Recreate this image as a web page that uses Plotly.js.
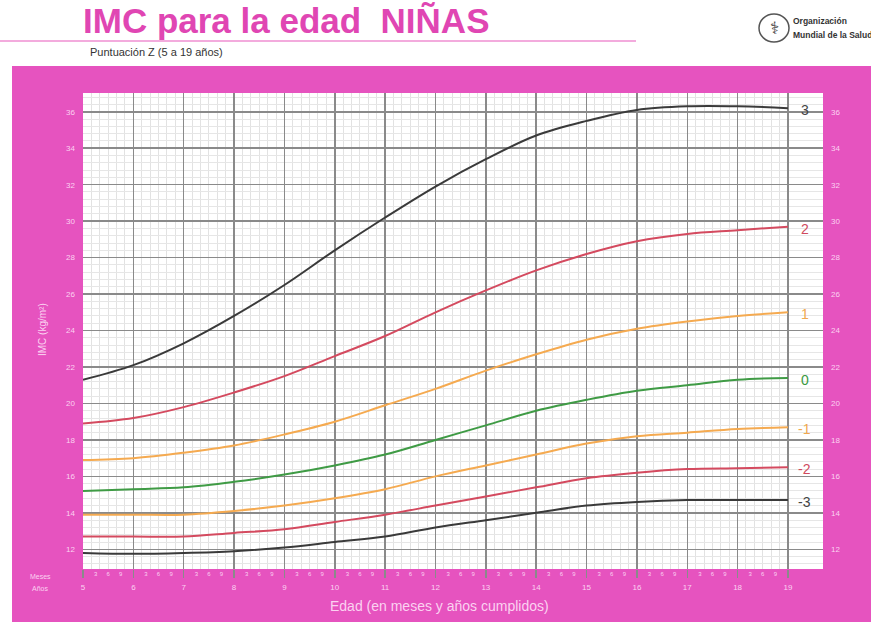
<!DOCTYPE html>
<html>
<head>
<meta charset="utf-8">
<script src="https://cdn.plot.ly/plotly-3.0.1.min.js"></script>
<style>html,body{margin:0;padding:0;background:#fff;}#chart{width:871px;height:622px;}</style>
</head>
<body>
<div id="chart"></div>
<script>
// ---- data (BMI-for-age, girls, 5-19 years, z-score curves) ----
const ages = [5, 6, 7, 8, 9, 10, 11, 12, 13, 14, 15, 16, 17, 18, 19];
const sd3  = [21.3, 22.1, 23.3, 24.8, 26.5, 28.4, 30.2, 31.9, 33.4, 34.7, 35.5, 36.1, 36.3, 36.3, 36.2];
const sd2  = [18.9, 19.2, 19.8, 20.6, 21.5, 22.6, 23.7, 25.0, 26.2, 27.3, 28.2, 28.9, 29.3, 29.5, 29.7];
const sd1  = [16.9, 17.0, 17.3, 17.7, 18.3, 19.0, 19.9, 20.8, 21.8, 22.7, 23.5, 24.1, 24.5, 24.8, 25.0];
const sd0  = [15.2, 15.3, 15.4, 15.7, 16.1, 16.6, 17.2, 18.0, 18.8, 19.6, 20.2, 20.7, 21.0, 21.3, 21.4];
const sdm1 = [13.9, 13.9, 13.9, 14.1, 14.4, 14.8, 15.3, 16.0, 16.6, 17.2, 17.8, 18.2, 18.4, 18.6, 18.7];
const sdm2 = [12.7, 12.7, 12.7, 12.9, 13.1, 13.5, 13.9, 14.4, 14.9, 15.4, 15.9, 16.2, 16.4, 16.45, 16.5];
const sdm3 = [11.8, 11.75, 11.8, 11.9, 12.1, 12.4, 12.7, 13.2, 13.6, 14.0, 14.4, 14.6, 14.7, 14.7, 14.7];
const zLabels = ['3', '2', '1', '0', '-1', '-2', '-3'];
const monthLabels = ['3', '6', '9'];

// ---- styling ----
const W = 871, H = 622, ML = 83, MR = 48, MT = 93, MB = 53;
const PW = W - ML - MR, PH = H - MT - MB;
const px = v => (v - ML) / PW;
const py = v => (H - MB - v) / PH;
const PINK = '#e653bf';
const LIGHT = '#fbd2f1';
const FONT = 'Liberation Sans, Arial, sans-serif';
const colBlack = '#3a3a3a', colRed = '#d44a5f', colOrange = '#f5aa50', colGreen = '#3f9b45';

const series = [sd3, sd2, sd1, sd0, sdm1, sdm2, sdm3];
const lineCols = [colBlack, colRed, colOrange, colGreen, colOrange, colRed, colBlack];
const labelCols = ['#444444', '#d04a5e', '#f0a850', '#3a9a40', '#f0a850', '#d04a5e', '#444444'];

const traces = series.map((s, i) => ({
  x: ages, y: s, type: 'scatter', mode: 'lines',
  line: {color: lineCols[i], width: 2, shape: 'spline', smoothing: 1},
  hoverinfo: 'skip', showlegend: false
}));
// helper trace that makes the secondary axes exist (draws nothing)
traces.push({x: ages, y: sd0, xaxis: 'x2', yaxis: 'y2', type: 'scatter', mode: 'none', hoverinfo: 'skip', showlegend: false});

// ticks for month rows and minor grid
const monthTicks = [], monthText = [], minorX = [];
for (let k = 0; k < ages.length - 1; k++) {
  const a = ages[k];
  monthLabels.forEach((m, j) => { monthTicks.push(a + (j + 1) / 4); monthText.push(m); });
  for (let m = 1; m < 6; m++) minorX.push(a + m / 6);
}

const xr = [5, 19.696], yr = [10.92, 37.03];

const annotations = series.map((s, i) => ({
  x: 19.33, y: s[s.length - 1], xref: 'x', yref: 'y', text: zLabels[i], showarrow: false,
  yshift: -2, font: {family: FONT, size: 14, color: labelCols[i]}
}));
annotations.push(
  {x: px(88), y: py(52), xref: 'paper', yref: 'paper', xanchor: 'left', yanchor: 'middle', showarrow: false,
   text: 'Puntuación Z (5 a 19 años)', font: {family: FONT, size: 11, color: '#333'}},
  {x: px(791), y: py(21), xref: 'paper', yref: 'paper', xanchor: 'left', yanchor: 'middle', showarrow: false,
   text: '<b>Organización</b>', font: {family: FONT, size: 8.5, color: '#333'}},
  {x: px(791), y: py(35), xref: 'paper', yref: 'paper', xanchor: 'left', yanchor: 'middle', showarrow: false,
   text: '<b>Mundial de la Salud</b>', font: {family: FONT, size: 8.5, color: '#333'}},
  {x: px(774), y: py(28), xref: 'paper', yref: 'paper', xanchor: 'center', yanchor: 'middle', showarrow: false,
   text: '⚕', font: {family: 'DejaVu Sans', size: 17, color: '#444'}},
  {x: px(40), y: py(576), xref: 'paper', yref: 'paper', xanchor: 'center', yanchor: 'middle', showarrow: false,
   text: 'Meses', font: {family: FONT, size: 7, color: LIGHT}},
  {x: px(40), y: py(588), xref: 'paper', yref: 'paper', xanchor: 'center', yanchor: 'middle', showarrow: false,
   text: 'Años', font: {family: FONT, size: 7, color: LIGHT}},
  {x: px(439), y: py(606), xref: 'paper', yref: 'paper', xanchor: 'center', yanchor: 'middle', showarrow: false,
   text: 'Edad (en meses y años cumplidos)', font: {family: FONT, size: 14, color: LIGHT}},
  {x: px(42), y: py(330), xref: 'paper', yref: 'paper', xanchor: 'center', yanchor: 'middle', showarrow: false,
   textangle: -90, text: 'IMC (kg/m²)', font: {family: FONT, size: 10, color: LIGHT}}
);

const shapes = [
  {type: 'rect', xref: 'paper', yref: 'paper', x0: px(12), x1: px(W + 2), y0: py(H + 2), y1: py(66),
   fillcolor: PINK, line: {width: 0}, layer: 'below'},
  {type: 'rect', xref: 'paper', yref: 'paper', x0: 0, x1: 1, y0: 0, y1: 1,
   fillcolor: '#ffffff', line: {width: 0}, layer: 'below'},
  {type: 'line', xref: 'paper', yref: 'paper', x0: px(0), x1: px(636), y0: py(41), y1: py(41),
   line: {color: '#ef8fd2', width: 1.5}},
  {type: 'circle', xref: 'paper', yref: 'paper', x0: px(759), x1: px(789), y0: py(42), y1: py(14),
   line: {color: '#555', width: 1.5}, fillcolor: 'rgba(0,0,0,0)'}
];

const tickFont = {family: FONT, size: 8, color: LIGHT};

const layout = {
  width: W, height: H,
  margin: {l: ML, r: MR, t: MT, b: MB, pad: 0},
  paper_bgcolor: '#ffffff', plot_bgcolor: '#ffffff',
  showlegend: false, hovermode: false,
  title: {text: 'IMC para la edad\u00a0\u00a0NIÑAS', xref: 'container', yref: 'container',
          x: ML / W, xanchor: 'left', y: 1 - 21 / H, yanchor: 'middle',
          font: {family: FONT, size: 35, color: '#e046b3', weight: 'bold'}},
  xaxis: {range: xr, tickmode: 'linear', tick0: 5, dtick: 1, showgrid: true, gridcolor: '#8a8a8a', gridwidth: 1.5,
          zeroline: false, showline: false, ticks: 'outside', ticklen: 8, tickwidth: 1.5, tickcolor: '#8a8a8a',
          tickfont: tickFont, ticklabelstandoff: 2, fixedrange: true,
          minor: {tickmode: 'array', tickvals: minorX, showgrid: true, gridcolor: '#e2e2e2', gridwidth: 1, ticks: ''}},
  xaxis2: {range: xr, overlaying: 'x', anchor: 'y2', side: 'bottom', tickmode: 'array', tickvals: monthTicks, ticktext: monthText,
           showgrid: false, zeroline: false, showline: false, ticks: '', fixedrange: true,
           tickfont: {family: FONT, size: 6, color: LIGHT}},
  yaxis: {range: yr, tickmode: 'linear', tick0: 12, dtick: 2, showgrid: true, gridcolor: '#8a8a8a', gridwidth: 1.5,
          zeroline: false, showline: false, ticks: '', tickfont: tickFont, ticklabelstandoff: 7, fixedrange: true,
          minor: {tick0: 12, dtick: 0.4, showgrid: true, gridcolor: '#e6e6e6', gridwidth: 1, ticks: ''}},
  yaxis2: {range: yr, overlaying: 'y', anchor: 'x2', side: 'right', tickmode: 'linear', tick0: 12, dtick: 2,
           showgrid: false, zeroline: false, showline: false, ticks: '', tickfont: tickFont, ticklabelstandoff: 7, fixedrange: true},
  shapes: shapes,
  annotations: annotations
};

Plotly.newPlot('chart', traces, layout, {displayModeBar: false, staticPlot: true});
</script>
</body>
</html>
